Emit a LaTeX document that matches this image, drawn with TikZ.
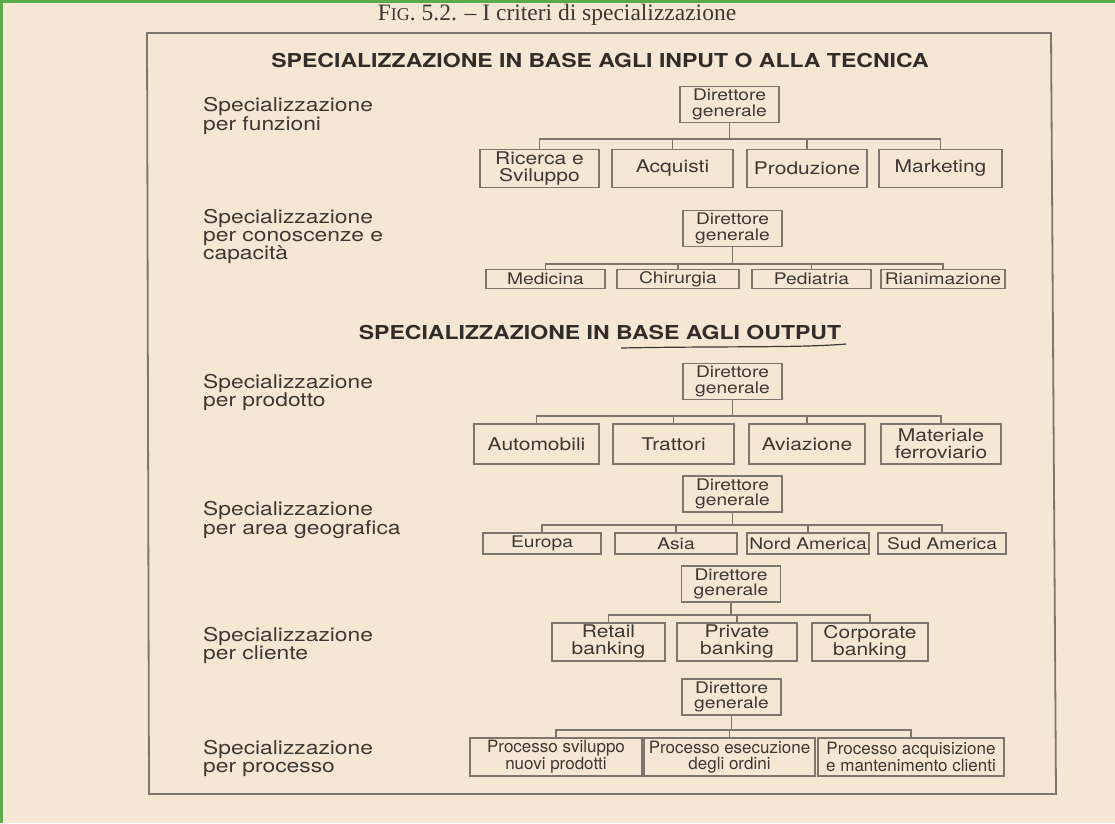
\documentclass[tikz,border=0pt]{standalone}
\usepackage{fontspec}
\setmainfont{Liberation Serif}
\newfontfamily\titlefont{Liberation Serif}
\newfontfamily\widesf[FakeStretch=1.2]{TeX Gyre Heros}
\newfontfamily\narrowsf{TeX Gyre Heros}
\usepackage{tikz}
\usetikzlibrary{positioning}
\definecolor{paper}{HTML}{F6E6D4}
\definecolor{frameline}{HTML}{7E756C}
\definecolor{ink}{HTML}{3E3833}
\definecolor{border}{HTML}{5DAA48}
\tikzset{
  orgbox/.style={draw=frameline, line width=1.4pt, inner sep=0pt, align=center, text=ink},
  topbox/.style={orgbox, minimum width=99pt, minimum height=36pt, font=\widesf\fontsize{16}{15.5}\selectfont},
  unitbox/.style={orgbox, minimum height=38pt, font=\widesf\fontsize{17.5}{17}\selectfont},
  thinbox/.style={orgbox, minimum height=19pt, font=\widesf\fontsize{16}{16}\selectfont},
  procbox/.style={orgbox, minimum height=38pt, font=\narrowsf\fontsize{17}{16}\selectfont},
  critlabel/.style={anchor=west, align=left, inner sep=0pt, text=ink, font=\widesf\fontsize{19}{18}\selectfont},
  heading/.style={inner sep=0pt, text=ink!80!black, font=\widesf\bfseries\fontsize{19.2}{20}\selectfont},
  tree/.style={draw=frameline, line width=1.4pt},
}

\begin{document}
\begin{tikzpicture}[x=1pt, y=-1pt]
	\fill[paper] (0,0) rectangle (1115,823);
	\useasboundingbox (0,0) rectangle (1115,823);
	\draw[border, line width=3pt] (0,1.5) -- (1115,1.5);
	\draw[border, line width=3pt] (1.5,0) -- (1.5,823);
	\draw[frameline, line width=1.8pt] (147,33) -- (1051,33) -- (1056,794) -- (149,794) -- cycle;
	\node[text=ink, inner sep=0pt] (title) at (557,15) {\titlefont\fontsize{23.5}{23.5}\selectfont F{\fontsize{18}{18}\selectfont IG}. 5.2. – I criteri di specializzazione};

	\node[heading] (h1) at (600,60) {SPECIALIZZAZIONE IN BASE AGLI INPUT O ALLA TECNICA};
	\node[heading] (h2) at (600,332) {SPECIALIZZAZIONE IN BASE AGLI OUTPUT};
	\draw[ink, line width=1.2pt] (621,348) .. controls (720,346) and (800,348) .. (846,344);

	\node[critlabel] (l1) at (203,116) {Specializzazione\\per funzioni};
	\node[critlabel] (l2) at (203,236) {Specializzazione\\per conoscenze e\\capacità};
	\node[critlabel] (l3) at (203,392) {Specializzazione\\per prodotto};
	\node[critlabel] (l4) at (203,520) {Specializzazione\\per area geografica};
	\node[critlabel] (l5) at (203,645) {Specializzazione\\per cliente};
	\node[critlabel] (l6) at (203,758) {Specializzazione\\per processo};

	% per funzioni
	\node[topbox] (dg1) at (729.5,104.5) {Direttore\\generale};
	\node[unitbox, minimum width=119pt] (rs) at (539.5,168.5) {Ricerca e\\Sviluppo};
	\node[unitbox, minimum width=121pt] (acq) at (672.5,168.5) {Acquisti};
	\node[unitbox, minimum width=120pt] (prod) at (807,168.5) {Produzione};
	\node[unitbox, minimum width=123pt] (mkt) at (940.5,168.5) {Marketing};
	\coordinate (b1) at (0,139);
	\draw[tree] (dg1.south) -- (dg1.south |- b1);
	\draw[tree] (rs.north) |- (mkt.north |- b1) -- (mkt.north);
	\draw[tree] (acq.north) -- (acq.north |- b1);
	\draw[tree] (prod.north) -- (prod.north |- b1);

	% per conoscenze e capacita
	\node[topbox] (dg2) at (732.5,228.5) {Direttore\\generale};
	\node[thinbox, minimum width=119pt] (med) at (545.5,279) {Medicina};
	\node[thinbox, minimum width=122pt] (chir) at (678,279) {Chirurgia};
	\node[thinbox, minimum width=119pt] (ped) at (811.5,279) {Pediatria};
	\node[thinbox, minimum width=124pt] (rian) at (943,279) {Rianimazione};
	\coordinate (b2) at (0,264);
	\draw[tree] (dg2.south) -- (dg2.south |- b2);
	\draw[tree] (med.north) |- (rian.north |- b2) -- (rian.north);
	\draw[tree] (chir.north) -- (chir.north |- b2);
	\draw[tree] (ped.north) -- (ped.north |- b2);

	% per prodotto
	\node[topbox] (dg3) at (732.5,381.5) {Direttore\\generale};
	\node[unitbox, minimum width=125pt, minimum height=40pt] (auto) at (536.5,444) {Automobili};
	\node[unitbox, minimum width=121pt, minimum height=40pt] (tratt) at (673.5,444) {Trattori};
	\node[unitbox, minimum width=116pt, minimum height=40pt] (avia) at (807,444) {Aviazione};
	\node[unitbox, minimum width=120pt, minimum height=40pt] (ferr) at (941,444) {Materiale\\ferroviario};
	\coordinate (b3) at (0,416);
	\draw[tree] (dg3.south) -- (dg3.south |- b3);
	\draw[tree] (auto.north) |- (ferr.north |- b3) -- (ferr.north);
	\draw[tree] (tratt.north) -- (tratt.north |- b3);
	\draw[tree] (avia.north) -- (avia.north |- b3);

	% per area geografica
	\node[topbox] (dg4) at (732.5,494) {Direttore\\generale};
	\node[thinbox, minimum width=118pt, minimum height=21pt] (eur) at (542,543.5) {Europa};
	\node[thinbox, minimum width=122pt, minimum height=21pt] (asia) at (676,543.5) {Asia};
	\node[thinbox, minimum width=122pt, minimum height=21pt] (nam) at (808,543.5) {Nord America};
	\node[thinbox, minimum width=128pt, minimum height=21pt] (sam) at (942,543.5) {Sud America};
	\coordinate (b4) at (0,525);
	\draw[tree] (dg4.south) -- (dg4.south |- b4);
	\draw[tree] (eur.north) |- (sam.north |- b4) -- (sam.north);
	\draw[tree] (asia.north) -- (asia.north |- b4);
	\draw[tree] (nam.north) -- (nam.north |- b4);

	% per cliente
	\node[topbox] (dg5) at (731,584) {Direttore\\generale};
	\node[unitbox, minimum width=113pt] (retail) at (608.5,642) {Retail\\banking};
	\node[unitbox, minimum width=120pt] (priv) at (737,642) {Private\\banking};
	\node[unitbox, minimum width=116pt] (corp) at (870,642) {Corporate\\banking};
	\coordinate (b5) at (0,615);
	\draw[tree] (dg5.south) -- (dg5.south |- b5);
	\draw[tree] (retail.north) |- (corp.north |- b5) -- (corp.north);
	\draw[tree] (priv.north) -- (priv.north |- b5);

	% per processo
	\node[topbox] (dg6) at (731.5,697) {Direttore\\generale};
	\node[procbox, minimum width=172pt] (svil) at (556,757) {Processo sviluppo\\nuovi prodotti};
	\node[procbox, minimum width=171pt] (esec) at (729.5,757) {Processo esecuzione\\degli ordini};
	\node[procbox, minimum width=186pt] (acqc) at (911,757) {Processo acquisizione\\e mantenimento clienti};
	\coordinate (b6) at (0,730);
	\draw[tree] (dg6.south) -- (dg6.south |- b6);
	\draw[tree] (svil.north) |- (acqc.north |- b6) -- (acqc.north);
	\draw[tree] (esec.north) -- (esec.north |- b6);
\end{tikzpicture}
\end{document}
